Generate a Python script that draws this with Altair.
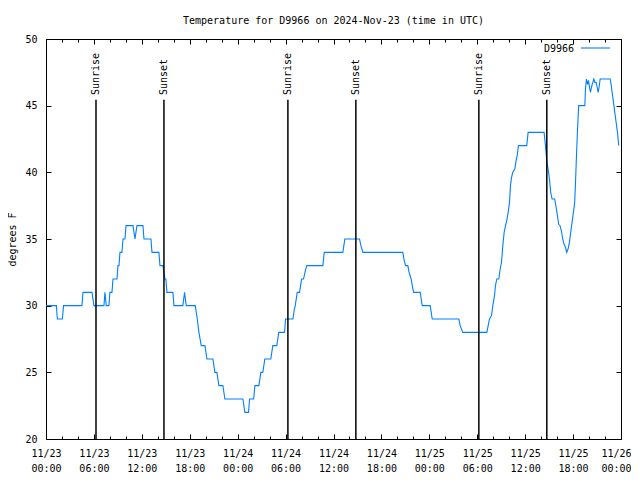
import altair as alt
import pandas as pd

# ---- data (hours since 2024-11-23 00:00 UTC) ----
hours = [0, 1.30, 1.42, 2.05, 2.20, 4.50, 4.63, 5.76, 6.00, 7.26, 7.38, 7.55, 7.88, 8.00,
         8.26, 8.39, 8.89, 9.01, 9.14, 9.26, 9.51, 9.64, 9.89, 10.02, 10.89, 11.14, 11.39,
         12.14, 12.27, 13.14, 13.27, 14.14, 14.27, 14.64, 14.77, 14.89, 15.01, 15.14, 15.89,
         16.02, 17.14, 17.35, 17.56, 18.69,
         18.94, 19.15, 19.44, 19.90, 20.15, 20.90, 21.15, 21.40, 21.65, 22.15, 22.40, 24.66,
         24.90, 25.36, 25.49, 26.00, 26.16, 26.66, 26.90, 27.15, 27.40, 28.15, 28.40, 28.90,
         29.15, 29.87, 30.00, 30.92, 31.09, 31.21, 31.46, 31.75, 32.00, 32.25, 32.50, 32.67,
         34.67, 34.84, 37.17, 37.42, 39.26, 39.43, 39.68, 44.68, 44.85, 45.02, 45.31, 45.47,
         45.72, 46.02, 46.86, 47.11, 48.11, 48.36, 51.69, 51.86, 52.19, 55.20, 55.37, 55.53,
         55.78, 55.95, 56.16, 56.28, 56.45, 56.70, 56.87, 57.04, 57.20, 57.37, 57.54, 57.70,
         57.87, 58.04, 58.16, 58.29, 58.45, 58.70, 58.87, 59.00, 59.16, 60.20, 60.37, 62.37,
         62.54, 62.70, 62.87, 63.04, 63.20, 63.37, 63.70, 63.87, 64.04, 64.20, 64.37, 64.54,
         64.70, 64.87, 65.04, 65.20, 65.37, 65.54, 65.70, 65.87, 66.04, 66.20, 66.29, 66.41,
         66.54, 66.70, 67.47, 67.55, 67.67, 67.80, 67.93, 68.05, 68.18, 68.30, 68.47, 68.60,
         68.72, 68.89, 69.01, 69.14, 69.26, 69.39, 70.64, 70.76, 70.89, 71.06, 71.22, 71.39,
         71.56, 71.72]
temps = [30, 30, 29, 29, 30, 30, 31, 31, 30, 30, 31, 30, 30, 31,
         31, 32, 32, 33, 33, 34, 34, 35, 35, 36, 36, 35, 36,
         36, 35, 35, 34, 34, 33, 33, 32.5, 32, 32, 31, 31,
         30, 30, 31, 30, 30,
         29, 28, 27, 27, 26, 26, 25, 25, 24, 24, 23, 23,
         22, 22, 23, 23, 24, 24, 25, 25, 26, 26, 27, 27,
         28, 28, 29, 29, 29.7, 30, 31, 31, 32, 32, 32.7, 33,
         33, 34, 34, 35, 35, 34.5, 34, 34, 33.4, 33, 33, 32.5,
         32, 31, 31, 30, 30, 29, 29, 28.5, 28, 28, 28.5, 29,
         29.25, 30, 30.75, 31.5, 32, 32, 32.75, 33.25, 34.5, 35.5, 36, 36.4,
         37, 37.75, 39, 39.6, 40, 40.25, 40.9, 41.25, 42, 42, 43, 43,
         42, 40.9, 40.25, 39.5, 38.5, 38, 38, 37.4, 36.75, 36.1, 36, 35.6,
         35, 34.6, 34.4, 34, 34.25, 34.75, 35.5, 36.25, 37, 37.75, 39, 41,
         43, 45, 45, 46.25, 47, 46.6, 46.9, 46.4, 46, 46.4, 46.75, 47,
         46.75, 46.75, 46.4, 46, 46.4, 47, 47, 46.6, 46, 45.25, 44.5, 43.75,
         43, 42]

event_hours = [6.26, 14.77, 30.29, 38.80, 54.20, 62.71]
event_names = ["Sunrise", "Sunset", "Sunrise", "Sunset", "Sunrise", "Sunset"]

x_minor_ticks = list(range(0, 73, 2))
x_label_ticks = list(range(0, 73, 6))
y_ticks = [20, 25, 30, 35, 40, 45, 50]
series_name = ["D9966"]
title_text = "Temperature for D9966 on 2024-Nov-23 (time in UTC)"

df = pd.DataFrame({"h": hours, "t": temps})
ev = pd.DataFrame({"h": event_hours, "name": event_names})
leg = pd.DataFrame({"name": series_name})

W, H = 575, 400
FONT = "DejaVu Sans Mono"
FS = 10
BLUE = "#0080ff"

xscale = alt.Scale(domain=[0, 72], nice=False, zero=False)
yscale = alt.Scale(domain=[20, 50], nice=False, zero=False)

label_expr = ("['11/' + (23 + floor(datum.value / 24)), "
              "(datum.value % 24 < 10 ? '0' : '') + (datum.value % 24) + ':00']")
last_label_shift = {"condition": {"test": "datum.value >= 72", "value": -5}, "value": 0}

line = alt.Chart(df).mark_line(color=BLUE, strokeWidth=1.1).encode(
    x=alt.X("h:Q", scale=xscale, axis=alt.Axis(
        values=x_label_ticks, labelExpr=label_expr, ticks=False, tickSize=0,
        domain=False, grid=False, labelPadding=9.5, labelFont=FONT, labelFontSize=FS,
        labelLineHeight=14.5, labelColor="black", labelFlush=False, labelOverlap=False,
        labelBaseline="top", labelOffset=last_label_shift, title=None)),
    y=alt.Y("t:Q", scale=yscale, axis=alt.Axis(
        values=y_ticks, ticks=False, tickSize=0, domain=False, grid=False,
        labelPadding=9, labelFont=FONT, labelFontSize=FS, labelColor="black",
        labelFlush=False, labelOverlap=False,
        title="degrees F", titleFont=FONT, titleFontSize=FS, titleFontWeight="normal",
        titleColor="black", titleX=-34, titleY=H / 2, titleAngle=270,
        titleAlign="center", titleBaseline="middle")),
)

major_minor = {"condition": {"test": "datum.value % 6 === 0", "value": 5}, "value": 3}


def tick_axis_x(orient):
    return alt.Axis(orient=orient, offset=-H, values=x_minor_ticks, labels=False,
                    domain=False, grid=False, title=None, ticks=True,
                    tickColor="black", tickWidth=1, tickSize=major_minor)


def tick_axis_y(orient):
    return alt.Axis(orient=orient, offset=-W, values=y_ticks, labels=False,
                    domain=False, grid=False, title=None, ticks=True,
                    tickColor="black", tickWidth=1, tickSize=5)


ticks_a = alt.Chart(df).mark_line(opacity=0).encode(
    x=alt.X("h:Q", scale=xscale, axis=tick_axis_x("top")),
    y=alt.Y("t:Q", scale=yscale, axis=tick_axis_y("right")),
)
ticks_b = alt.Chart(df).mark_line(opacity=0).encode(
    x=alt.X("h:Q", scale=xscale, axis=tick_axis_x("bottom")),
    y=alt.Y("t:Q", scale=yscale, axis=tick_axis_y("left")),
)

rules = alt.Chart(ev).transform_calculate(top="45.45", bot="20").mark_rule(
    color="black", strokeWidth=1.5).encode(
    x=alt.X("h:Q", scale=xscale, axis=None),
    y=alt.Y("top:Q", scale=yscale, axis=None),
    y2=alt.Y2("bot:Q"),
)

ev_text = alt.Chart(ev).transform_calculate(ty="45.8").mark_text(
    angle=270, align="left", baseline="middle", font=FONT, fontSize=FS,
    color="black").encode(
    x=alt.X("h:Q", scale=xscale, axis=None),
    y=alt.Y("ty:Q", scale=yscale, axis=None),
    text="name:N",
)

legend_line = alt.Chart(leg).mark_rule(color=BLUE, strokeWidth=1.1).encode(
    x=alt.value(535), x2=alt.value(564), y=alt.value(9))
legend_text = alt.Chart(leg).mark_text(
    align="right", baseline="middle", font=FONT, fontSize=FS, color="black").encode(
    x=alt.value(528), y=alt.value(10), text="name:N")

chart = alt.layer(
    line, ticks_a, ticks_b, rules, ev_text, legend_line, legend_text
).resolve_axis(x="independent", y="independent").properties(
    width=W, height=H,
    title=alt.Title(title_text, font=FONT, fontSize=FS, fontWeight="normal",
                    color="black", offset=8, anchor="middle", frame="group"),
    autosize=alt.AutoSizeParams(type="none"),
    padding={"left": 38, "top": 31, "right": 10, "bottom": 33},
    background="white",
).configure_view(stroke="black", strokeWidth=1)

chart.save("out.html", embed_options={"renderer": "svg", "actions": False})
